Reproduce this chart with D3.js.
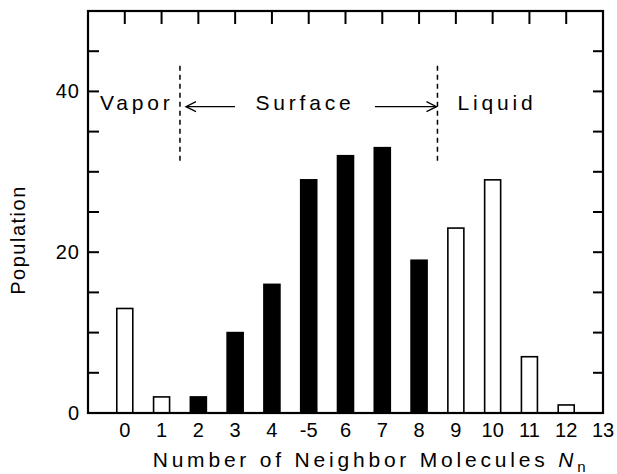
<!DOCTYPE html>
<html>
<head>
<meta charset="utf-8">
<script src="https://cdn.jsdelivr.net/npm/d3@7.9.0/dist/d3.min.js"></script>
<style>
  body { margin: 0; background: #fff; }
  svg { font-family: "Liberation Sans", Arial, sans-serif; }
</style>
</head>
<body>
<svg id="chart" width="617" height="474"></svg>
<script>
// data
const neighbors = [0, 1, 2, 3, 4, 5, 6, 7, 8, 9, 10, 11, 12];
const population = [13, 2, 2, 10, 16, 29, 32, 33, 19, 23, 29, 7, 1];
const surface = [false, false, true, true, true, true, true, true, true, false, false, false, false];
const xTickLabels = ["0", "1", "2", "3", "4", "-5", "6", "7", "8", "9", "10", "11", "12", "13"];
const yTicks = [0, 5, 10, 15, 20, 25, 30, 35, 40, 45, 50];
const yTickLabels = [0, 20, 40];
const boundaries = [1.5, 8.5];

const svg = d3.select("#chart");
const margin = { left: 88, right: 14, top: 11, bottom: 61 };
const W = 617, H = 474;

const x = d3.scaleLinear().domain([-1, 13]).range([margin.left, W - margin.right]);
const y = d3.scaleLinear().domain([0, 50]).range([H - margin.bottom, margin.top]);

const barW = 16;

// bars
svg.selectAll("rect.bar")
  .data(neighbors)
  .join("rect")
  .attr("class", "bar")
  .attr("x", (d) => x(d) - barW / 2)
  .attr("y", (d, i) => y(population[i]))
  .attr("width", barW)
  .attr("height", (d, i) => y(0) - y(population[i]))
  .attr("fill", (d, i) => (surface[i] ? "#000" : "#fff"))
  .attr("stroke", "#000")
  .attr("stroke-width", 1.6);

// frame
svg.append("rect")
  .attr("x", x(-1)).attr("y", y(50))
  .attr("width", x(13) - x(-1)).attr("height", y(0) - y(50))
  .attr("fill", "none").attr("stroke", "#000").attr("stroke-width", 2.2);

// ticks on top (pointing in)
svg.selectAll("line.xtick")
  .data(d3.range(0, 13))
  .join("line")
  .attr("class", "xtick")
  .attr("x1", (d) => x(d)).attr("x2", (d) => x(d))
  .attr("y1", y(50)).attr("y2", y(50) + 13)
  .attr("stroke", "#000").attr("stroke-width", 2);

// y ticks on left and right
svg.selectAll("line.yl")
  .data(yTicks.slice(1, -1))
  .join("line")
  .attr("class", "yl")
  .attr("x1", x(-1)).attr("x2", x(-1) + 11)
  .attr("y1", (d) => y(d)).attr("y2", (d) => y(d))
  .attr("stroke", "#000").attr("stroke-width", 2);
svg.selectAll("line.yr")
  .data(yTicks.slice(1, -1))
  .join("line")
  .attr("class", "yr")
  .attr("x1", x(13)).attr("x2", x(13) - 10)
  .attr("y1", (d) => y(d)).attr("y2", (d) => y(d))
  .attr("stroke", "#000").attr("stroke-width", 2);

// tick labels
svg.selectAll("text.xl")
  .data(xTickLabels)
  .join("text")
  .attr("class", "xl")
  .attr("x", (d, i) => x(i))
  .attr("y", y(0) + 24)
  .attr("text-anchor", "middle")
  .attr("font-size", 20)
  .text((d) => d);

svg.selectAll("text.yl")
  .data(yTickLabels)
  .join("text")
  .attr("class", "yl")
  .attr("x", x(-1) - 8)
  .attr("y", (d) => y(d) + 7)
  .attr("text-anchor", "end")
  .attr("font-size", 20)
  .attr("letter-spacing", 1)
  .text((d) => d);

// axis titles
svg.append("text")
  .attr("transform", `translate(25,${(y(0) + y(50)) / 2 + 28}) rotate(-90)`)
  .attr("text-anchor", "middle")
  .attr("font-size", 20)
  .attr("letter-spacing", 1.5)
  .text("Population");

const xt = svg.append("text")
  .attr("x", 371)
  .attr("y", 467)
  .attr("text-anchor", "middle")
  .attr("font-size", 21)
  .attr("letter-spacing", 3.8);
xt.append("tspan").text("Number of Neighbor Molecules ");
xt.append("tspan").attr("font-style", "italic").text("N");
xt.append("tspan").attr("font-size", 15).attr("dy", 5).text("n");

// region boundaries
svg.selectAll("line.bound")
  .data(boundaries)
  .join("line")
  .attr("class", "bound")
  .attr("x1", (d) => x(d)).attr("x2", (d) => x(d))
  .attr("y1", y(43.2)).attr("y2", y(30.9))
  .attr("stroke", "#000").attr("stroke-width", 1.5)
  .attr("stroke-dasharray", "5,4");

// region labels
const labelY = y(37.7);
const labelOpts = [
  { t: "Vapor", x: 100, a: "start" },
  { t: "Surface", x: 305, a: "middle" },
  { t: "Liquid", x: 497, a: "middle" },
];
svg.selectAll("text.region")
  .data(labelOpts)
  .join("text")
  .attr("class", "region")
  .attr("x", (d) => d.x)
  .attr("y", labelY)
  .attr("text-anchor", (d) => d.a)
  .attr("font-size", 21)
  .attr("letter-spacing", 3.8)
  .text((d) => d.t);

// arrows
const arrowY = y(38.1);
function arrow(xFrom, xTo) {
  svg.append("line")
    .attr("x1", xFrom).attr("x2", xTo)
    .attr("y1", arrowY).attr("y2", arrowY)
    .attr("stroke", "#000").attr("stroke-width", 1.3);
  const dir = xTo > xFrom ? -1 : 1;
  svg.append("path")
    .attr("d", `M${xTo + dir * 10},${arrowY - 5}L${xTo},${arrowY}L${xTo + dir * 10},${arrowY + 5}`)
    .attr("fill", "none").attr("stroke", "#000").attr("stroke-width", 1.3);
}
arrow(235, x(1.5) + 6);
arrow(375, x(8.5) - 1);
</script>
</body>
</html>
